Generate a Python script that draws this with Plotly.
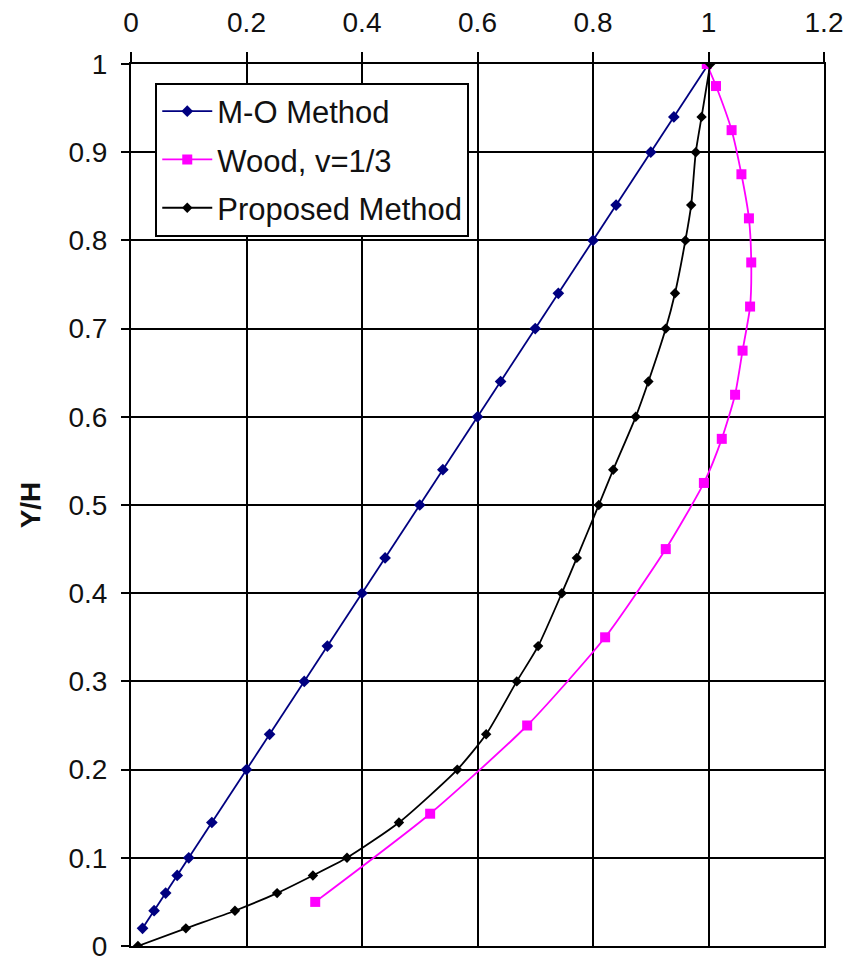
import plotly.graph_objects as go

# ---- data ----
mo_y = [0.02, 0.04, 0.06, 0.08, 0.10, 0.14, 0.20, 0.24, 0.30, 0.34, 0.40, 0.44,
        0.50, 0.54, 0.60, 0.64, 0.70, 0.74, 0.80, 0.84, 0.90, 0.94, 1.00]
mo_x = [0.02, 0.04, 0.06, 0.08, 0.10, 0.14, 0.20, 0.24, 0.30, 0.34, 0.40, 0.44,
        0.50, 0.54, 0.60, 0.64, 0.70, 0.74, 0.80, 0.84, 0.90, 0.94, 1.00]

wood_y = [0.05, 0.15, 0.25, 0.35, 0.45, 0.525, 0.575, 0.625, 0.675, 0.725,
          0.775, 0.825, 0.875, 0.925, 0.975, 1.00]
wood_x = [0.319, 0.518, 0.686, 0.821, 0.926, 0.992, 1.023, 1.046, 1.059, 1.072,
          1.074, 1.070, 1.057, 1.040, 1.013, 0.997]

prop_y = [0.00, 0.02, 0.04, 0.06, 0.08, 0.10, 0.14, 0.20, 0.24, 0.30, 0.34, 0.40,
          0.44, 0.50, 0.54, 0.60, 0.64, 0.70, 0.74, 0.80, 0.84, 0.90, 0.94, 1.00]
prop_x = [0.012, 0.095, 0.180, 0.253, 0.315, 0.374, 0.464, 0.565, 0.615, 0.668,
          0.705, 0.746, 0.772, 0.810, 0.835, 0.874, 0.896, 0.926, 0.942, 0.960,
          0.970, 0.978, 0.988, 1.003]

x_ticks = [0, 0.2, 0.4, 0.6, 0.8, 1.0, 1.2]
x_tick_text = ["0", "0.2", "0.4", "0.6", "0.8", "1", "1.2"]
y_ticks = [0, 0.1, 0.2, 0.3, 0.4, 0.5, 0.6, 0.7, 0.8, 0.9, 1.0]
y_tick_text = ["0", "0.1", "0.2", "0.3", "0.4", "0.5", "0.6", "0.7", "0.8", "0.9", "1"]

FONT = "Liberation Sans, Arial, sans-serif"
FS = 28

fig = go.Figure()
fig.add_trace(go.Scatter(
    x=mo_x, y=mo_y, name="M-O Method", mode="lines+markers", legendgroup="a",
    line=dict(color="#000080", width=1.8),
    marker=dict(symbol="diamond", size=9, color="#000080")))
fig.add_trace(go.Scatter(
    x=wood_x, y=wood_y, name="Wood, v=1/3", mode="lines+markers", legendgroup="b",
    line=dict(color="#FF00FF", width=1.8, shape="spline", smoothing=0.6),
    marker=dict(symbol="square", size=10, color="#FF00FF")))
fig.add_trace(go.Scatter(
    x=prop_x, y=prop_y, name="Proposed Method", mode="lines+markers", legendgroup="c",
    line=dict(color="#000000", width=1.8, shape="spline", smoothing=0.6),
    marker=dict(symbol="diamond", size=8, color="#000000")))

fig.update_layout(
    width=851, height=964,
    margin=dict(l=131, r=27, t=64, b=18, autoexpand=False),
    paper_bgcolor="white", plot_bgcolor="white",
    font=dict(family=FONT, size=FS, color="#111111"),
    showlegend=True,
    legend=dict(
        x=0.035, y=0.979, xanchor="left", yanchor="top",
        bgcolor="white", bordercolor="black", borderwidth=2,
        font=dict(family=FONT, size=31, color="#111111"),
        tracegroupgap=5, itemwidth=50,
    ),
    xaxis=dict(
        side="top", range=[0, 1.2], tickvals=x_ticks, ticktext=x_tick_text,
        showgrid=True, gridcolor="black", gridwidth=2,
        showline=True, linecolor="black", linewidth=2, mirror=True,
        ticks="outside", ticklen=10, tickwidth=2, tickcolor="black",
        zeroline=False, tickfont=dict(size=FS), ticklabelstandoff=9,
        ticklabeloverflow="allow", automargin=False,
    ),
    yaxis=dict(
        range=[0, 1.0], tickvals=y_ticks, ticktext=y_tick_text,
        showgrid=True, gridcolor="black", gridwidth=2,
        showline=True, linecolor="black", linewidth=2, mirror=True,
        ticks="outside", ticklen=8, tickwidth=2, tickcolor="black",
        zeroline=False, tickfont=dict(size=FS), ticklabelstandoff=8,
        ticklabeloverflow="allow", automargin=False,
        title=dict(text="<b>Y/H</b>", font=dict(size=28), standoff=20),
    ),
)

fig.write_html("out.html")
